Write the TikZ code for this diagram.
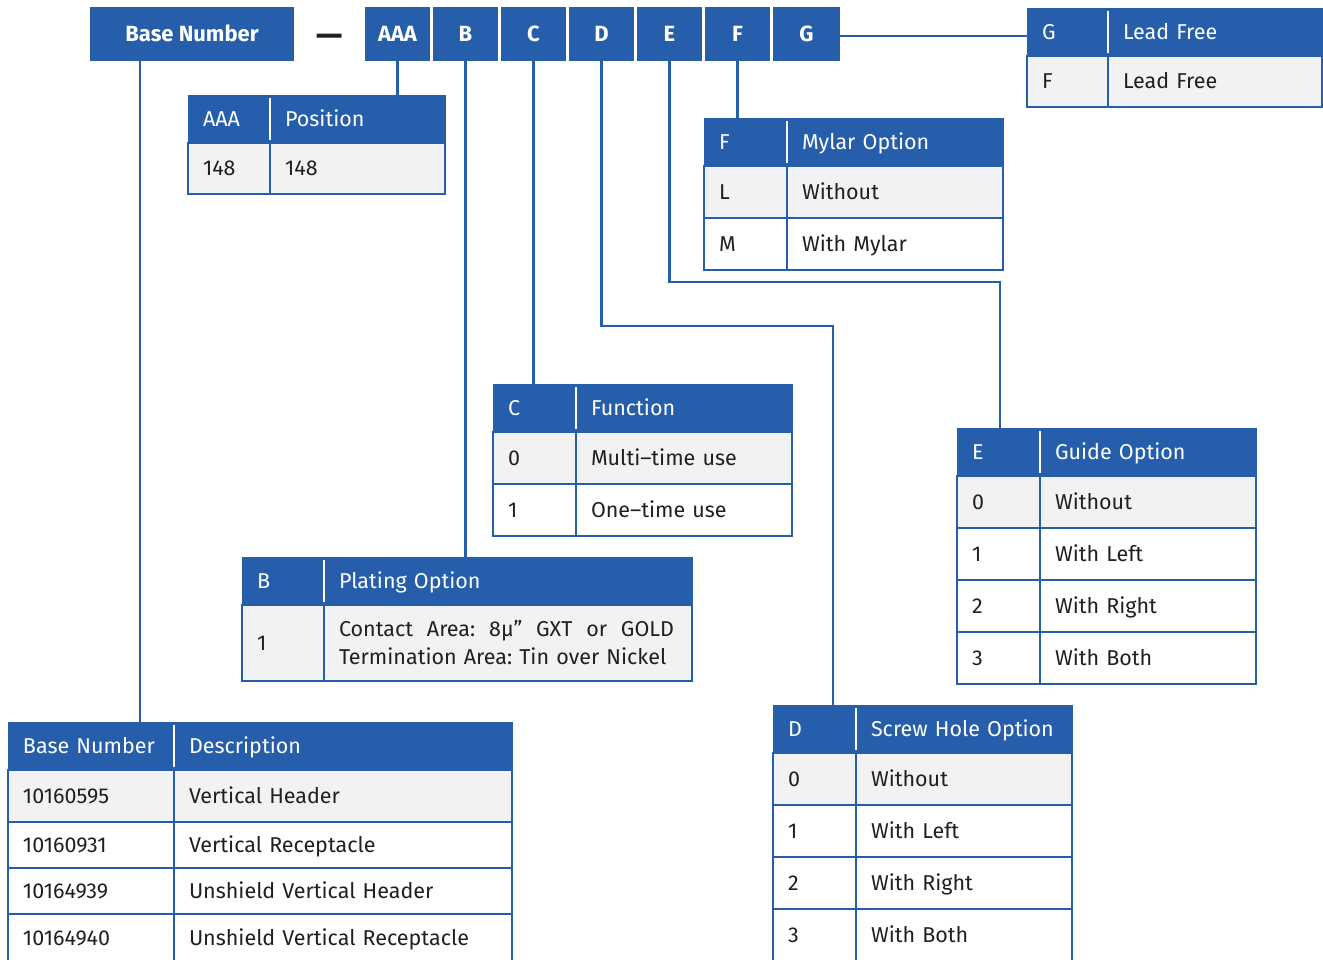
\documentclass[tikz,border=0pt]{standalone}
\usepackage{fontspec}
\setmainfont{Fira Sans}
\usetikzlibrary{positioning}

\definecolor{pnblue}{HTML}{265EAC}
\definecolor{rowgray}{HTML}{F1F2F4}
\definecolor{inkdark}{HTML}{231F20}
\tikzstyle{link} = [pnblue, line width=2.5pt]
\frenchspacing

\begin{document}
\begin{tikzpicture}[x=1pt, y=-1pt, font=\fontsize{21.5}{28}\selectfont,
        code/.style={rectangle, fill=pnblue, text=white, font=\fontsize{22}{28}\selectfont\bfseries, minimum width=65pt, minimum height=54pt, text height=15pt, text depth=0pt, inner sep=0pt, outer sep=0pt},
        hd/.style={rectangle, fill=pnblue, draw=pnblue, line width=0.5pt, text=white, minimum height=48pt, text height=15pt, text depth=0pt, inner xsep=15pt, inner ysep=0pt, outer sep=0pt, align=left, anchor=north west},
        cell/.style={rectangle, draw=pnblue, line width=2.5pt, text=inkdark, minimum height=52pt, text height=15pt, text depth=0pt, inner xsep=15pt, inner ysep=0pt, outer sep=0pt, align=left},
        split/.style={white, line width=2pt}]

    \fill[white] (0,0) rectangle (1323,960);
    \useasboundingbox (0,0) rectangle (1323,960);

    % Part number code
    \node[code, minimum width=204pt, anchor=north west] (bn) at (90,7) {Base Number};
    \node[text=inkdark, font=\fontsize{33}{33}\selectfont\bfseries] (dash) at (330,40) {—};
    \node[code, anchor=north west] (cA) at (365,7) {AAA};
    \node[code, right=3pt of cA] (cB) {B};
    \node[code, right=3pt of cB] (cC) {C};
    \node[code, right=3pt of cC] (cD) {D};
    \node[code, right=3pt of cD] (cE) {E};
    \node[code, right=3pt of cE] (cF) {F};
    \node[code, right=3pt of cF, minimum width=67pt] (cG) {G};

    % AAA position
    \node[hd, text width=52pt] (ah1) at (188,95) {AAA};
    \node[hd, text width=145pt, right=0pt of ah1] (ah2) {Position};
    \node[cell, fill=rowgray, text width=52pt, minimum height=51pt, below=0pt of ah1] (a1) {148};
    \node[cell, fill=rowgray, text width=145pt, minimum height=51pt, right=0pt of a1] (ab1) {148};

    % G lead free
    \node[hd, text width=51pt] (gh1) at (1027,8) {G};
    \node[hd, text width=184pt, right=0pt of gh1] (gh2) {Lead Free};
    \node[cell, fill=rowgray, text width=51pt, minimum height=51pt, below=0pt of gh1] (g1) {F};
    \node[cell, fill=rowgray, text width=184pt, minimum height=51pt, right=0pt of g1] (gb1) {Lead Free};

    % F mylar option
    \node[hd, text width=53pt] (fh1) at (704,118) {F};
    \node[hd, text width=186pt, right=0pt of fh1] (fh2) {Mylar Option};
    \foreach \k/\t/\c [count=\i, remember=\i as \p (initially h1)] in {L/Without/rowgray, M/With Mylar/white} {
        \node[cell, fill=\c, text width=53pt, below=0pt of f\p] (f\i) {\k};
        \node[cell, fill=\c, text width=186pt, right=0pt of f\i] (fb\i) {\t};
    }

    % C function
    \node[hd, text width=53pt] (ch1) at (493,384) {C};
    \node[hd, text width=186pt, right=0pt of ch1] (ch2) {Function};
    \foreach \k/\t/\c [count=\i, remember=\i as \p (initially h1)] in {0/Multi–time use/rowgray, 1/One–time use/white} {
        \node[cell, fill=\c, text width=53pt, below=0pt of c\p] (c\i) {\k};
        \node[cell, fill=\c, text width=186pt, right=0pt of c\i] (cb\i) {\t};
    }

    % E guide option
    \node[hd, text width=53pt] (eh1) at (957,428) {E};
    \node[hd, text width=186pt, right=0pt of eh1] (eh2) {Guide Option};
    \foreach \k/\t/\c [count=\i, remember=\i as \p (initially h1)] in {0/Without/rowgray, 1/With Left/white, 2/With Right/white, 3/With Both/white} {
        \node[cell, fill=\c, text width=53pt, below=0pt of e\p] (e\i) {\k};
        \node[cell, fill=\c, text width=186pt, right=0pt of e\i] (eb\i) {\t};
    }

    % B plating option
    \node[hd, text width=52pt] (bh1) at (242,557) {B};
    \node[hd, text width=338pt, right=0pt of bh1] (bh2) {Plating Option};
    \node[cell, fill=rowgray, text width=52pt, minimum height=76pt, below=0pt of bh1] (b1) {1};
    \node[cell, fill=rowgray, text width=338pt, minimum height=76pt, text height=, text depth=, right=0pt of b1] (bb1)
        {\makebox[335pt][s]{\spaceskip=.3em plus 1fil Contact Area: 8µ” GXT or GOLD}\\Termination Area: Tin over Nickel};

    % Base number
    \node[hd, text width=136pt] (baseh1) at (8,722) {Base Number};
    \node[hd, text width=308pt, right=0pt of baseh1] (baseh2) {Description};
    \foreach \k/\t/\c/\h [count=\i, remember=\i as \p (initially h1)] in {10160595/Vertical Header/rowgray/52, 10160931/Vertical Receptacle/white/46, 10164939/Unshield Vertical Header/white/46, 10164940/Unshield Vertical Receptacle/white/48} {
        \node[cell, fill=\c, text width=136pt, minimum height=\h pt, below=0pt of base\p] (base\i) {\k};
        \node[cell, fill=\c, text width=308pt, minimum height=\h pt, right=0pt of base\i] (baseb\i) {\t};
    }

    % D screw hole option
    \node[hd, text width=53pt] (dh1) at (773,705) {D};
    \node[hd, text width=186pt, right=0pt of dh1] (dh2) {Screw Hole Option};
    \foreach \k/\t/\c [count=\i, remember=\i as \p (initially h1)] in {0/Without/rowgray, 1/With Left/white, 2/With Right/white, 3/With Both/white} {
        \node[cell, fill=\c, text width=53pt, below=0pt of d\p] (d\i) {\k};
        \node[cell, fill=\c, text width=186pt, right=0pt of d\i] (db\i) {\t};
    }

    % header dividers
    \foreach \h in {ah1, gh1, fh1, ch1, eh1, bh1, baseh1, dh1}
        \draw[split] ([yshift=-3pt]\h.north east) -- ([yshift=3pt]\h.south east);

    % Links
    \coordinate (bnx) at ([xshift=50pt]bn.south west);
    \coordinate (dbend) at (833,326);
    \coordinate (ebend) at (1000,282);
    \draw[link] (bnx) -- (bnx |- baseh1.north);
    \draw[link] (cA.south) -- (cA.south |- ah2.north);
    \draw[link] (cB.south) -- (cB.south |- bh2.north);
    \draw[link] (cC.south) -- (cC.south |- ch1.north);
    \draw[link] (cD.south) |- (dbend) -- (dbend |- dh1.north);
    \draw[link] (cE.south) |- (ebend) -- (ebend |- eh1.north);
    \draw[link] (cF.south) -- (cF.south |- fh1.north);
    \draw[link] ([yshift=-2pt]cG.east) -- ([yshift=-2pt]cG.east -| gh1.west);
\end{tikzpicture}
\end{document}
